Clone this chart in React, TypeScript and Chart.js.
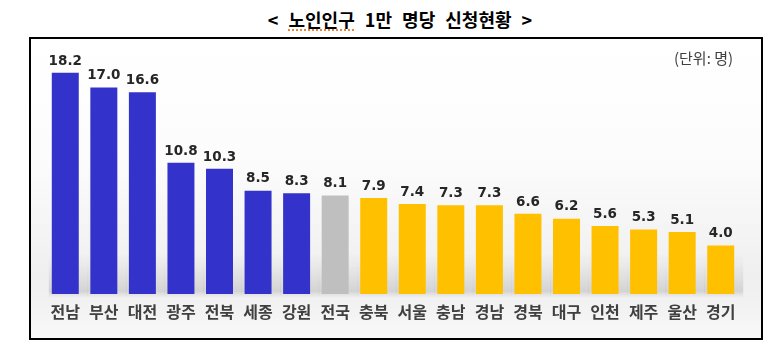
import React, { useEffect, useRef } from "react";
import { Chart, registerables } from "chart.js";

Chart.register(...registerables);

const categories = ["전남", "부산", "대전", "광주", "전북", "세종", "강원", "전국", "충북", "서울", "충남", "경남", "경북", "대구", "인천", "제주", "울산", "경기"];
const values = [18.2, 17.0, 16.6, 10.8, 10.3, 8.5, 8.3, 8.1, 7.9, 7.4, 7.3, 7.3, 6.6, 6.2, 5.6, 5.3, 5.1, 4.0];
const groups = ["high", "high", "high", "high", "high", "high", "high", "avg", "low", "low", "low", "low", "low", "low", "low", "low", "low", "low"];
const groupColors: Record<string, string> = { high: "#3333CC", avg: "#BFBFBF", low: "#FFC000" };
const unitText = "(단위: 명)";

const valueLabels = {
  id: "valueLabels",
  afterDatasetsDraw(chart: any) {
    const ctx = chart.ctx;
    const meta = chart.getDatasetMeta(0);
    ctx.save();
    ctx.font = "bold 13.5px 'DejaVu Sans', sans-serif";
    ctx.fillStyle = "#262626";
    ctx.textAlign = "center";
    ctx.textBaseline = "bottom";
    meta.data.forEach((bar: any, i: number) => {
      ctx.fillText(values[i].toFixed(1), bar.x, bar.y - 5);
    });
    ctx.restore();
  },
};

const floorShadow = {
  id: "floorShadow",
  beforeDatasetsDraw(chart: any) {
    const ctx = chart.ctx;
    const y0 = chart.scales.y.getPixelForValue(0);
    ctx.save();
    const g = ctx.createLinearGradient(0, y0 - 40, 0, y0 + 4);
    g.addColorStop(0, "rgba(200,200,200,0)");
    g.addColorStop(0.85, "rgba(175,175,175,0.45)");
    g.addColorStop(1, "rgba(200,200,200,0)");
    ctx.fillStyle = g;
    const meta = chart.getDatasetMeta(0);
    meta.data.forEach((bar: any) => {
      const w = bar.width;
      ctx.fillRect(bar.x - w / 2 - 3, y0 - 40, w + 12, 44);
    });
    ctx.restore();
  },
};

export default function App() {
  const ref = useRef<HTMLCanvasElement>(null);
  useEffect(() => {
    if (!ref.current) return;
    const chart = new Chart(ref.current, {
      type: "bar",
      data: {
        labels: categories,
        datasets: [
          {
            data: values,
            backgroundColor: groups.map((g) => groupColors[g]),
            categoryPercentage: 0.7,
            barPercentage: 1.0,
          },
        ],
      },
      plugins: [floorShadow, valueLabels],
      options: {
        animation: false,
        responsive: false,
        devicePixelRatio: 1,
        layout: { padding: { left: 46, right: 42, top: 51, bottom: 31 } },
        plugins: { legend: { display: false }, tooltip: { enabled: false }, title: { display: false } },
        scales: {
          x: {
            grid: { display: false, drawTicks: false },
            border: { display: false },
            ticks: {
              padding: 8,
              color: "#404040",
              font: { family: "'Noto Sans CJK KR', sans-serif", size: 16, weight: "bold" },
              maxRotation: 0,
              autoSkip: false,
            },
            afterFit: (s: any) => {
              s.height = 30;
            },
          },
          y: { display: false, min: 0, max: 20 },
        },
      },
    });
    return () => chart.destroy();
  }, []);

  return (
    <div style={{ position: "fixed", left: 0, top: 0, width: 782, height: 355, background: "#fff", overflow: "hidden" }}>
      <div
        style={{
          position: "absolute",
          left: 0,
          width: 800,
          top: 8,
          textAlign: "center",
          fontFamily: "'Noto Sans CJK KR', sans-serif",
          fontWeight: 700,
          fontSize: 18,
          lineHeight: "22px",
          color: "#000",
          wordSpacing: 6,
        }}
      >
        &lt; <span style={{ textDecoration: "underline dotted #E87722", textUnderlineOffset: 3 }}>노인인구</span> 1만 명당 신청현황 &gt;
      </div>
      <div
        style={{
          position: "absolute",
          left: 29,
          top: 37,
          width: 730,
          height: 299,
          border: "2px solid #000",
          background: "linear-gradient(to bottom, #ffffff 0%, #fcfcfc 40%, #efefef 80%, #f3f3f3 92%, #fafafa 100%)",
        }}
      />
      <canvas ref={ref} width={782} height={355} style={{ position: "absolute", left: 0, top: 0 }} />
      <div
        style={{
          position: "absolute",
          left: 674,
          top: 48,
          fontFamily: "'Noto Sans CJK KR', sans-serif",
          fontSize: 15,
          lineHeight: "20px",
          color: "#404040",
        }}
      >
        {unitText}
      </div>
    </div>
  );
}
